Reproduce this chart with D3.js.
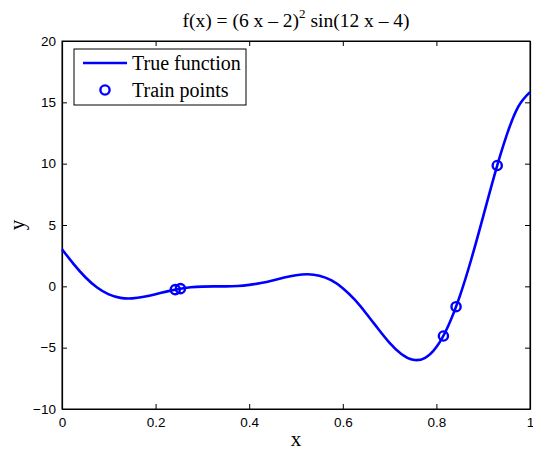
<!DOCTYPE html>
<html>
<head>
<meta charset="utf-8">
<script src="https://cdn.jsdelivr.net/npm/d3@7"></script>
<style>
  body { margin: 0; background: #fff; }
  .axis text { font-family: "Liberation Sans", Arial, sans-serif; font-size: 13.5px; fill: #000; }
  .axis path, .axis line { stroke: #000; }
  .serif { font-family: "Liberation Serif", "Times New Roman", serif; fill: #000; }
</style>
</head>
<body>
<div class="chart"></div>
<script>
// true function, read at steps of 0.025
const curve_x = [0, 0.025, 0.05, 0.075, 0.1, 0.125, 0.15, 0.175, 0.2, 0.225, 0.25, 0.275, 0.3, 0.325, 0.35, 0.375, 0.4, 0.425, 0.45, 0.475, 0.5,
  0.525, 0.55, 0.575, 0.6, 0.625, 0.65, 0.675, 0.7, 0.725, 0.75, 0.775, 0.8, 0.825, 0.85, 0.875, 0.9, 0.925, 0.95, 0.975, 1];
const curve_y = [3.03, 1.81, 0.74, -0.10, -0.66, -0.94, -0.98, -0.85, -0.64, -0.41, -0.21, -0.08, -0.02, 0.0, 0.0, 0.03, 0.12, 0.27, 0.48, 0.72, 0.91,
  0.99, 0.87, 0.50, -0.15, -1.07, -2.21, -3.44, -4.61, -5.52, -5.99, -5.85, -4.95, -3.25, -0.80, 2.27, 5.71, 9.19, 12.30, 14.65, 15.83];

const train_x = [0.242, 0.253, 0.815, 0.842, 0.93];
const train_y = [-0.27, -0.19, -4.05, -1.66, 9.85];

const x_ticks = [0, 0.2, 0.4, 0.6, 0.8, 1];
const y_ticks = [-10, -5, 0, 5, 10, 15, 20];

var margin = { top: 41, right: 3, bottom: 41, left: 62 },
    width = 533 - margin.left - margin.right,
    height = 450 - margin.top - margin.bottom;

var root = d3.select('div.chart').append('svg')
    .attr('width', 533)
    .attr('height', 450);

var svg = root.append('g')
    .attr('transform', `translate(${margin.left},${margin.top})`);

var x = d3.scaleLinear().domain([0, 1]).range([0, width]);
var y = d3.scaleLinear().domain([-10, 20]).range([height, 0]);

svg.append('rect')
    .attr('width', width).attr('height', height)
    .attr('fill', 'none').attr('stroke', '#000').attr('stroke-width', 1);

svg.append('g')
    .attr('class', 'axis')
    .attr('transform', `translate(0,${height})`)
    .call(d3.axisBottom(x).tickValues(x_ticks).tickFormat(d3.format('')).tickSizeInner(-5).tickSizeOuter(0).tickPadding(8));

svg.append('g')
    .attr('class', 'axis')
    .call(d3.axisTop(x).tickValues(x_ticks).tickFormat('').tickSizeInner(-5).tickSizeOuter(0));

svg.append('g')
    .attr('class', 'axis')
    .call(d3.axisLeft(y).tickValues(y_ticks).tickFormat(d => d < 0 ? '\u2212' + (-d) : d).tickSizeInner(-5).tickSizeOuter(0).tickPadding(6));

svg.append('g')
    .attr('class', 'axis')
    .attr('transform', `translate(${width},0)`)
    .call(d3.axisRight(y).tickValues(y_ticks).tickFormat('').tickSizeInner(-5).tickSizeOuter(0));

svg.selectAll('.axis path.domain').attr('stroke-width', 1.2);

svg.append('path')
    .datum(curve_x.map((d, i) => [d, curve_y[i]]))
    .attr('fill', 'none')
    .attr('stroke', '#0000ff')
    .attr('stroke-width', 2.6)
    .attr('d', d3.line().x(d => x(d[0])).y(d => y(d[1])).curve(d3.curveNatural));

svg.selectAll('circle.train')
    .data(train_x.map((d, i) => [d, train_y[i]]))
    .enter()
    .append('circle')
        .attr('class', 'train')
        .attr('cx', d => x(d[0]))
        .attr('cy', d => y(d[1]))
        .attr('r', 4.6)
        .attr('fill', 'none')
        .attr('stroke', '#0000ff')
        .attr('stroke-width', 2.4);

// title
var title = root.append('text')
    .attr('class', 'serif')
    .attr('x', 296).attr('y', 27)
    .attr('text-anchor', 'middle')
    .style('font-size', '19.5px');
title.append('tspan').text('f(x) = (6 x \u2013 2)');
title.append('tspan').attr('dy', -9).style('font-size', '13px').text('2');
title.append('tspan').attr('dy', 9).text(' sin(12 x \u2013 4)');

root.append('text')
    .attr('class', 'serif')
    .attr('x', margin.left + width / 2).attr('y', 446)
    .attr('text-anchor', 'middle')
    .style('font-size', '21px')
    .text('x');

root.append('text')
    .attr('class', 'serif')
    .attr('transform', `translate(24,${margin.top + height / 2}) rotate(-90)`)
    .attr('text-anchor', 'middle')
    .style('font-size', '21px')
    .text('y');

// legend
var legend = root.append('g').attr('transform', 'translate(74,49)');
legend.append('rect')
    .attr('width', 172).attr('height', 56)
    .attr('fill', '#fff').attr('stroke', '#000').attr('stroke-width', 1);
legend.append('line')
    .attr('x1', 9).attr('x2', 53).attr('y1', 14).attr('y2', 14)
    .attr('stroke', '#0000ff').attr('stroke-width', 2.6);
legend.append('circle')
    .attr('cx', 31).attr('cy', 41).attr('r', 4.6)
    .attr('fill', 'none').attr('stroke', '#0000ff').attr('stroke-width', 2.4);
legend.append('text').attr('class', 'serif')
    .attr('x', 58).attr('y', 21).style('font-size', '20px').text('True function');
legend.append('text').attr('class', 'serif')
    .attr('x', 58).attr('y', 48).style('font-size', '20px').text('Train points');
</script>
</body>
</html>
